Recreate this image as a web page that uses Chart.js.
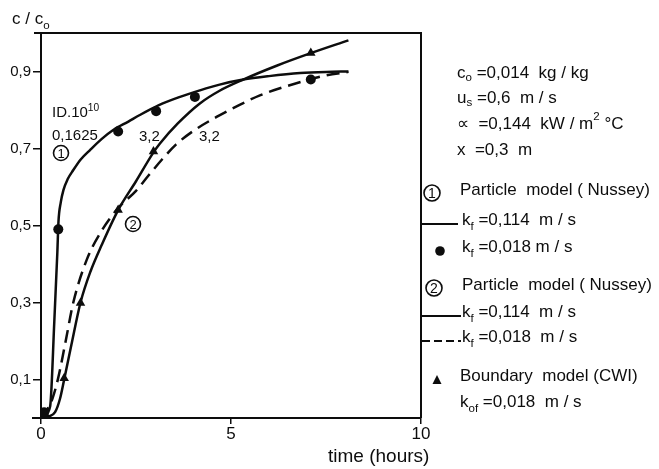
<!DOCTYPE html>
<html>
<head>
<meta charset="utf-8">
<script src="https://cdn.jsdelivr.net/npm/chart.js@4.4.0/dist/chart.umd.min.js"></script>
<style>
html,body{margin:0;padding:0;background:#fff;}
#wrap{width:659px;height:469px;position:relative;}
</style>
</head>
<body>
<div id="wrap"><canvas id="c" width="659" height="469"></canvas></div>
<script>
// ---- data ----
const xTicks = [0, 5, 10];
const yTicks = [0.1, 0.3, 0.5, 0.7, 0.9];

// Curve 1: particle model, kf = 0.114 m/s (solid)
const curve1X = [0, 0.1, 0.24, 0.35, 0.43, 0.46, 0.52, 0.59, 0.7, 0.85, 1.05, 1.29, 1.6, 1.9, 2.3, 2.6, 3.09, 3.6, 4.18, 4.7, 5.32, 6.0, 6.82, 7.5, 8.09];
const curve1Y = [0, 0.008, 0.03, 0.25, 0.43, 0.51, 0.56, 0.592, 0.62, 0.644, 0.672, 0.696, 0.725, 0.748, 0.77, 0.787, 0.812, 0.832, 0.851, 0.866, 0.879, 0.888, 0.896, 0.899, 0.9];

// Curve 2: particle model, kf = 0.114 m/s (solid)
const curve2SolidX = [0, 0.2, 0.37, 0.5, 0.61, 0.8, 1.04, 1.3, 1.6, 2.03, 2.5, 2.96, 3.13, 3.6, 4.18, 4.7, 5.32, 6.2, 7.08, 8.09];
const curve2SolidY = [0, 0.004, 0.015, 0.05, 0.1, 0.19, 0.3, 0.38, 0.45, 0.54, 0.615, 0.69, 0.713, 0.765, 0.817, 0.85, 0.879, 0.915, 0.947, 0.981];

// Curve 2: particle model, kf = 0.018 m/s (dashed)
const curve2DashX = [0, 0.15, 0.3, 0.45, 0.65, 0.85, 1.2, 1.6, 2.03, 2.5, 2.84, 3.19, 3.55, 4.0, 4.62, 5.2, 5.76, 6.4, 6.99, 7.5, 8.09];
const curve2DashY = [0, 0.02, 0.05, 0.103, 0.2, 0.3, 0.41, 0.487, 0.545, 0.59, 0.631, 0.672, 0.71, 0.745, 0.782, 0.812, 0.838, 0.86, 0.877, 0.89, 0.899];

// Dots: model 1, kf = 0.018 m/s
const dotX = [0.08, 0.455, 2.03, 3.03, 4.05, 7.1];
const dotY = [0.015, 0.49, 0.744, 0.797, 0.834, 0.879];

// Triangles: boundary model (CWI)
const triX = [0.1, 0.61, 1.04, 2.03, 2.96, 7.1];
const triY = [0.012, 0.103, 0.299, 0.54, 0.692, 0.948];

const pts = (xs, ys) => xs.map((x, i) => ({x: x, y: ys[i]}));
const FONT = '"Liberation Sans", Arial, sans-serif';
const INK = '#0d0d0d';

function drawRich(ctx, x, y, parts, size) {
  // parts: [text, mode] mode 0 normal, 1 subscript, 2 superscript
  let cx = x;
  for (const [t, m] of parts) {
    const s = m ? size * 0.68 : size;
    ctx.font = s + 'px ' + FONT;
    const dy = m === 1 ? size * 0.3 : (m === 2 ? -size * 0.4 : 0);
    ctx.fillText(t, cx, y + dy);
    cx += ctx.measureText(t).width;
  }
  return cx;
}
function circled(ctx, cx, cy, r, digit, size) {
  ctx.beginPath();
  ctx.lineWidth = 1.6;
  ctx.arc(cx, cy, r, 0, Math.PI * 2);
  ctx.stroke();
  ctx.font = size + 'px ' + FONT;
  ctx.textAlign = 'center';
  ctx.textBaseline = 'middle';
  ctx.fillText(digit, cx, cy + 1);
  ctx.textAlign = 'left';
  ctx.textBaseline = 'alphabetic';
}

const decor = {
  id: 'decor',
  afterDraw(chart) {
    const ctx = chart.ctx;
    const a = chart.chartArea;
    ctx.save();
    ctx.strokeStyle = INK;
    ctx.fillStyle = INK;
    // frame: top and right borders, x axis extension
    ctx.lineWidth = 2;
    ctx.beginPath();
    ctx.moveTo(a.left - 7, a.top); ctx.lineTo(a.right + 1, a.top);
    ctx.moveTo(a.right, a.top); ctx.lineTo(a.right, a.bottom);
    ctx.moveTo(a.left - 9, a.bottom); ctx.lineTo(a.left, a.bottom);
    ctx.stroke();

    // axis titles
    ctx.textBaseline = 'alphabetic';
    drawRich(ctx, 12, 24, [['c / c', 0], ['o', 1]], 17);
    ctx.font = '19px ' + FONT;
    ctx.fillText('time (hours)', 328, 462);

    // annotations inside plot
    drawRich(ctx, 52, 117, [['ID.10', 0], ['10', 2]], 15);
    ctx.font = '15px ' + FONT;
    ctx.fillText('0,1625', 52, 140);
    ctx.fillText('3,2', 139, 141);
    ctx.fillText('3,2', 199, 141);
    circled(ctx, 61, 153, 7.5, '1', 13);
    circled(ctx, 133, 224, 7.5, '2', 13);

    // right-hand text block
    const fs = 17;
    ctx.textBaseline = 'middle';
    const tx = 457;
    drawRich(ctx, tx, 73, [['c', 0], ['o', 1], [' =0,014  kg / kg', 0]], fs);
    drawRich(ctx, tx, 98, [['u', 0], ['s', 1], [' =0,6  m / s', 0]], fs);
    drawRich(ctx, tx, 124, [['\u221D  =0,144  kW / m', 0], ['2', 2], [' \u00B0C', 0]], fs);
    drawRich(ctx, tx, 150, [['x  =0,3  m', 0]], fs);

    circled(ctx, 432, 193, 8, '1', 14);
    drawRich(ctx, 460, 195, [['Particle  model ( Nussey)', 0]], fs);

    ctx.lineWidth = 2;
    ctx.beginPath(); ctx.moveTo(a.right, 224); ctx.lineTo(458, 224); ctx.stroke();
    drawRich(ctx, 462, 225, [['k', 0], ['f', 1], [' =0,114  m / s', 0]], fs);

    ctx.beginPath(); ctx.arc(440, 251, 4.8, 0, Math.PI * 2); ctx.fill();
    drawRich(ctx, 462, 252, [['k', 0], ['f', 1], [' =0,018 m / s', 0]], fs);

    circled(ctx, 434, 288, 8, '2', 14);
    drawRich(ctx, 462, 290, [['Particle  model ( Nussey)', 0]], fs);

    ctx.lineWidth = 2;
    ctx.beginPath(); ctx.moveTo(a.right, 316); ctx.lineTo(461, 316); ctx.stroke();
    drawRich(ctx, 462, 317, [['k', 0], ['f', 1], [' =0,114  m / s', 0]], fs);

    ctx.setLineDash([8, 4]);
    ctx.beginPath(); ctx.moveTo(a.right + 1, 341); ctx.lineTo(461, 341); ctx.stroke();
    ctx.setLineDash([]);
    drawRich(ctx, 462, 342, [['k', 0], ['f', 1], [' =0,018  m / s', 0]], fs);

    ctx.beginPath();
    ctx.moveTo(437, 375); ctx.lineTo(441.5, 384); ctx.lineTo(432.5, 384); ctx.closePath(); ctx.fill();
    drawRich(ctx, 460, 381, [['Boundary  model (CWI)', 0]], fs);
    drawRich(ctx, 460, 407, [['k', 0], ['of', 1], [' =0,018  m / s', 0]], fs);

    ctx.restore();
  }
};

const fmt = v => String(v).replace('.', ',');

new Chart(document.getElementById('c'), {
  type: 'scatter',
  data: {
    datasets: [
      {label: 'Particle model 1, kf=0.114', data: pts(curve1X, curve1Y), showLine: true, borderColor: INK, borderWidth: 2.5, pointRadius: 0, cubicInterpolationMode: 'monotone', order: 3},
      {label: 'Particle model 2, kf=0.114', data: pts(curve2SolidX, curve2SolidY), showLine: true, borderColor: INK, borderWidth: 2.5, pointRadius: 0, cubicInterpolationMode: 'monotone', order: 3},
      {label: 'Particle model 2, kf=0.018', data: pts(curve2DashX, curve2DashY), showLine: true, borderColor: INK, borderWidth: 2.5, borderDash: [13, 7], pointRadius: 0, cubicInterpolationMode: 'monotone', order: 3},
      {label: 'Particle model 1, kf=0.018', data: pts(dotX, dotY), showLine: false, pointStyle: 'circle', pointRadius: 5, backgroundColor: INK, borderColor: INK, borderWidth: 0, order: 1},
      {label: 'Boundary model (CWI)', data: pts(triX, triY), showLine: false, pointStyle: 'triangle', pointRadius: 5.5, backgroundColor: INK, borderColor: INK, borderWidth: 0, order: 1}
    ]
  },
  options: {
    responsive: false,
    animation: false,
    layout: {padding: {left: 0, right: 238, top: 33, bottom: 0}},
    plugins: {legend: {display: false}, tooltip: {enabled: false}},
    scales: {
      x: {
        type: 'linear', min: 0, max: 10,
        afterBuildTicks: s => { s.ticks = xTicks.map(v => ({value: v})); },
        afterFit: s => { s.height = 51; },
        grid: {drawOnChartArea: false, drawTicks: true, tickLength: 6, color: INK, lineWidth: 1.5},
        border: {color: INK, width: 2},
        ticks: {color: INK, font: {family: FONT, size: 17}, padding: 0, maxRotation: 0, callback: v => fmt(v)}
      },
      y: {
        type: 'linear', min: 0, max: 1,
        afterBuildTicks: s => { s.ticks = yTicks.map(v => ({value: v})); },
        afterFit: s => { s.width = 41; },
        grid: {drawOnChartArea: false, drawTicks: true, tickLength: 8, color: INK, lineWidth: 1.5},
        border: {color: INK, width: 2},
        ticks: {color: INK, font: {family: FONT, size: 15}, padding: 2, callback: v => fmt(v)}
      }
    }
  },
  plugins: [decor]
});
</script>
</body>
</html>
